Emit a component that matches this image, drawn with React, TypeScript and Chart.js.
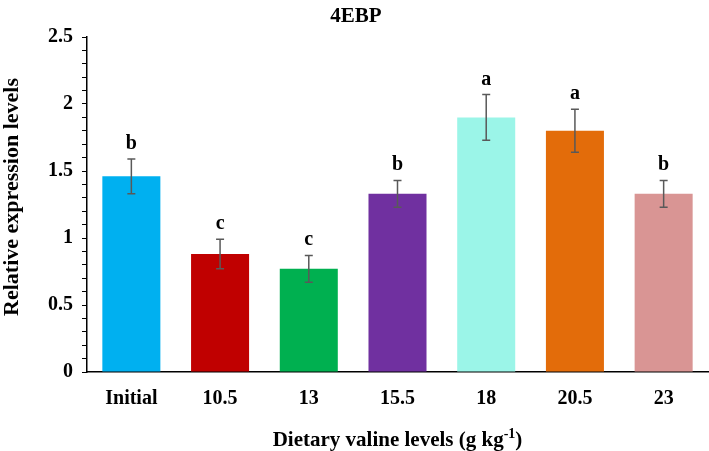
import React, { useEffect, useRef } from "react";
import { Chart, registerables } from "chart.js";

Chart.register(...registerables);

const categories = ["Initial", "10.5", "13", "15.5", "18", "20.5", "23"];
const values = [1.46, 0.88, 0.77, 1.33, 1.9, 1.8, 1.33];
const errors = [0.13, 0.11, 0.1, 0.1, 0.17, 0.16, 0.1];
const letters = ["b", "c", "c", "b", "a", "a", "b"];
const barColors = ["#00B0F0", "#C00000", "#00B050", "#7030A0", "#9BF5E8", "#E36C0A", "#D99594"];
const yMajorTicks = [0, 0.5, 1, 1.5, 2, 2.5];

const chartTitle = "4EBP";
const yTitle = "Relative expression levels";
const xTitleMain = "Dietary valine levels (g kg";
const xTitleSup = "-1";
const xTitleEnd = ")";

const FONT = "'Liberation Serif', 'Times New Roman', serif";

const annotPlugin = {
  id: "annot",
  afterDatasetsDraw(chart: any) {
    const ctx = chart.ctx;
    const xs = chart.scales.x;
    const ys = chart.scales.y;
    ctx.save();
    ctx.strokeStyle = "#595959";
    ctx.lineWidth = 1.5;
    values.forEach((v, i) => {
      const x = xs.getPixelForValue(i);
      const yt = ys.getPixelForValue(v + errors[i]);
      const yb = ys.getPixelForValue(v - errors[i]);
      ctx.beginPath();
      ctx.moveTo(x, yt);
      ctx.lineTo(x, yb);
      ctx.moveTo(x - 4, yt);
      ctx.lineTo(x + 4, yt);
      ctx.moveTo(x - 4, yb);
      ctx.lineTo(x + 4, yb);
      ctx.stroke();
      ctx.fillStyle = "#000";
      ctx.font = `bold 20px ${FONT}`;
      ctx.textAlign = "center";
      ctx.textBaseline = "alphabetic";
      ctx.fillText(letters[i], x, yt - 10);
    });
    ctx.restore();
  },
  afterDraw(chart: any) {
    const ctx = chart.ctx;
    const area = chart.chartArea;
    ctx.save();
    ctx.fillStyle = "#000";
    // title
    ctx.font = `bold 21px ${FONT}`;
    ctx.textAlign = "center";
    ctx.textBaseline = "middle";
    ctx.fillText(chartTitle, 356, 17);
    // y title
    ctx.save();
    ctx.translate(12, 197);
    ctx.rotate(-Math.PI / 2);
    ctx.font = `bold 22px ${FONT}`;
    ctx.fillText(yTitle, 0, 0);
    ctx.restore();
    // x title with superscript
    ctx.textAlign = "left";
    ctx.textBaseline = "alphabetic";
    ctx.font = `bold 21px ${FONT}`;
    const w1 = ctx.measureText(xTitleMain).width;
    const w3 = ctx.measureText(xTitleEnd).width;
    ctx.font = `bold 14px ${FONT}`;
    const w2 = ctx.measureText(xTitleSup).width;
    const total = w1 + w2 + w3;
    const cx = (area.left + area.right) / 2;
    const base = 446;
    const x0 = cx - total / 2;
    ctx.font = `bold 21px ${FONT}`;
    ctx.fillText(xTitleMain, x0, base);
    ctx.font = `bold 14px ${FONT}`;
    ctx.fillText(xTitleSup, x0 + w1, base - 8);
    ctx.font = `bold 21px ${FONT}`;
    ctx.fillText(xTitleEnd, x0 + w1 + w2, base);
    ctx.restore();
  },
};

export default function App() {
  const ref = useRef<HTMLCanvasElement | null>(null);
  useEffect(() => {
    document.body.style.margin = "0";
    if (!ref.current) return;
    const chart = new Chart(ref.current, {
      type: "bar",
      data: {
        labels: categories,
        datasets: [
          {
            data: values,
            backgroundColor: barColors,
            borderWidth: 0,
            categoryPercentage: 1,
            barPercentage: 0.654,
          },
        ],
      },
      options: {
        responsive: false,
        animation: false,
        layout: { padding: { left: 0, right: 1, top: 37, bottom: 0 } },
        plugins: {
          legend: { display: false },
          tooltip: { enabled: false },
          title: { display: false },
        },
        scales: {
          x: {
            grid: { display: false, drawTicks: false },
            border: { display: true, color: "#000", width: 1.5 },
            ticks: {
              color: "#000",
              font: { family: FONT, size: 20, weight: "bold" },
              padding: 15,
              autoSkip: false,
              maxRotation: 0,
            },
            afterFit(scale: any) {
              scale.height = 79;
            },
          },
          y: {
            min: 0,
            max: 2.5,
            grid: {
              display: true,
              drawOnChartArea: false,
              drawTicks: true,
              tickLength: 5,
              color: "#000",
              lineWidth: 1,
            },
            border: { display: true, color: "#000", width: 1.5 },
            ticks: {
              stepSize: 0.1,
              autoSkip: false,
              color: "#000",
              padding: 9,
              font: { family: FONT, size: 20, weight: "bold" },
              callback(value: any) {
                const v = Number(value);
                const m = yMajorTicks.find((t) => Math.abs(t - v) < 1e-6);
                return m === undefined ? "" : String(m);
              },
            },
            afterFit(scale: any) {
              scale.width = 87;
            },
          },
        },
      },
      plugins: [annotPlugin],
    });
    return () => chart.destroy();
  }, []);
  return (
    <div style={{ position: "absolute", left: 0, top: 0, width: 709, height: 451, background: "#fff" }}>
      <canvas ref={ref} width={709} height={451} style={{ width: 709, height: 451 }} />
    </div>
  );
}
